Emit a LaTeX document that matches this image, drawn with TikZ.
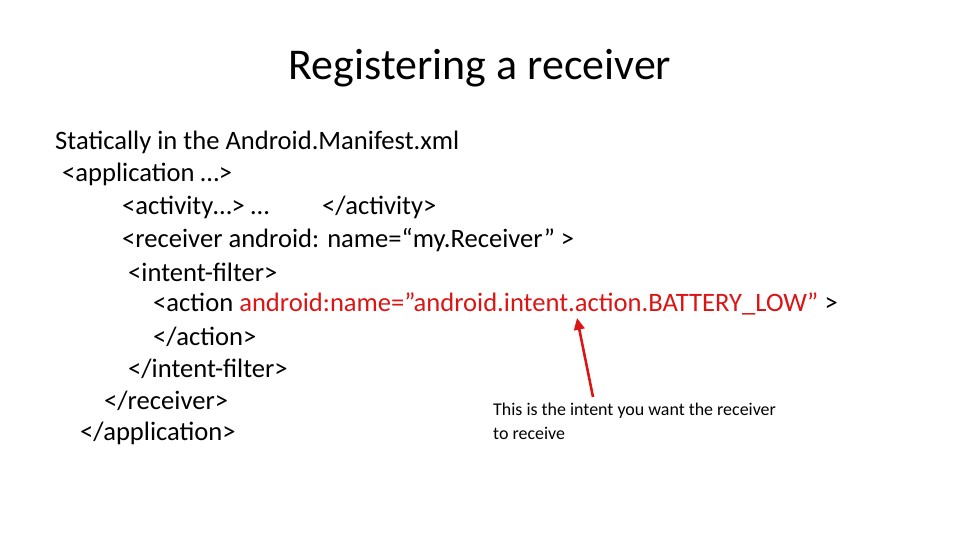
\documentclass[tikz,border=0pt]{standalone}
\usepackage{fontspec}
\setmainfont{Carlito}
\usetikzlibrary{arrows.meta}
\definecolor{myred}{RGB}{220,20,20}
\newcommand{\dq}{\symbol{34}}
\begin{document}
\begin{tikzpicture}[x=0.03cm,y=-0.03cm,
  code/.style={anchor=west,inner sep=0pt,font=\fontsize{22.7}{26}\selectfont},
  small/.style={anchor=west,inner sep=0pt,font=\fontsize{15.3}{18}\selectfont}]
\useasboundingbox (0,0) rectangle (960,540);
\node[inner sep=0pt,font=\fontsize{37.5}{42}\selectfont] (title) at (480,68) {Registering a receiver};
\node[code] (l1) at (55,142) {Statically in the Android.Manifest.xml};
\node[code] (l2) at (62,174) {<application …>};
\node[code] (l3) at (122,207) {<activity…> …};
\node[code] (l3b) at (322,207) {</activity>};
\node[code] (l4) at (122,240) {<receiver android: name=“my.Receiver\dq{} >};
\node[code] (l5) at (128,272) {<intent-filter>};
\node[code] (l6) at (153,304) {<action \textcolor{myred}{android:name=\dq android.intent.action.BATTERY\_LOW\dq} >};
\node[code] (l7) at (153,337) {</action>};
\node[code] (l8) at (128,369) {</intent-filter>};
\node[code] (l9) at (104,401) {</receiver>};
\node[code] (l10) at (80,433) {</application>};
\node[small] (n1) at (493,411) {This is the intent you want the receiver};
\node[small] (n2) at (493,433) {to receive};
\coordinate (a1) at (593,397);
\coordinate (a2) at (577,318);
\draw[myred,line width=2.2pt,-{Triangle[length=10pt,width=9pt]}] (a1) -- (a2);
\end{tikzpicture}
\end{document}
